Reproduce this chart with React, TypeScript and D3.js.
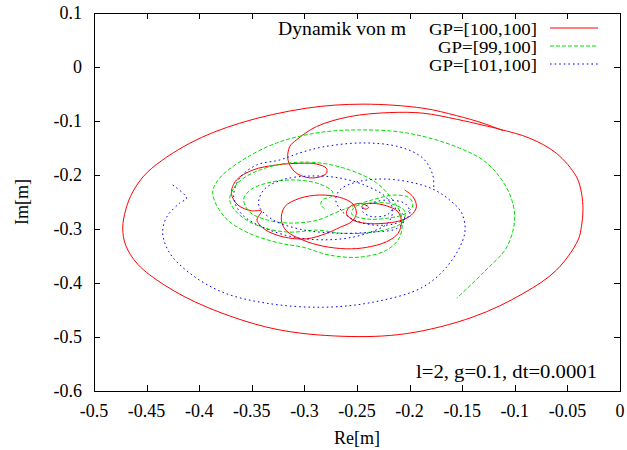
import React from "react";
import * as d3 from "d3";

const W = 627;
const H = 450;

const xTicks = [-0.5, -0.45, -0.4, -0.35, -0.3, -0.25, -0.2, -0.15, -0.1, -0.05, 0];
const xTickLabels = ["-0.5", "-0.45", "-0.4", "-0.35", "-0.3", "-0.25", "-0.2", "-0.15", "-0.1", "-0.05", "0"];
const yTicks = [0.1, 0, -0.1, -0.2, -0.3, -0.4, -0.5, -0.6];
const yTickLabels = ["0.1", "0", "-0.1", "-0.2", "-0.3", "-0.4", "-0.5", "-0.6"];

const seriesNames = ["GP=[100,100]", "GP=[99,100]", "GP=[101,100]"];

// GP=[100,100]
const redRe = [
  -0.2047, -0.1968, -0.1935, -0.1983, -0.2094, -0.2253, -0.2411, -0.2538, -0.2601, -0.2569, -0.2474,
  -0.2417, -0.2389, -0.2417, -0.2455, -0.2427,
  -0.2348, -0.2221, -0.211, -0.2078, -0.211, -0.2221, -0.2411, -0.2601, -0.2823, -0.3013, -0.3171,
  -0.3219, -0.3187, -0.3045, -0.2855, -0.2664, -0.2538, -0.2506, -0.2553, -0.2664, -0.2791, -0.2981,
  -0.3203, -0.3377, -0.3451, -0.3409, -0.3504, -0.3631, -0.3694, -0.3646, -0.3489, -0.3266, -0.3045,
  -0.2886, -0.2791, -0.2791, -0.2871, -0.2981, -0.3092, -0.3156, -0.314, -0.3076, -0.2886, -0.2569,
  -0.2189, -0.1873, -0.1555, -0.1302, -0.1144, -0.0858, -0.0605, -0.0414, -0.0366, -0.0352, -0.0366,
  -0.0399, -0.0605, -0.0922, -0.1397, -0.203, -0.2633, -0.3298, -0.3932, -0.4328, -0.4585, -0.4699,
  -0.4727, -0.4699, -0.4632, -0.449, -0.409, -0.3615, -0.2981, -0.2443, -0.1873, -0.1555, -0.1302,
  -0.1112,
];
const redIm = [
  -0.2278, -0.2403, -0.2588, -0.2742, -0.2848, -0.2896, -0.2896, -0.2835, -0.2711, -0.2588, -0.2525,
  -0.2557, -0.2603, -0.2631, -0.2594, -0.2538,
  -0.2525, -0.257, -0.2681, -0.2866, -0.3082, -0.3237, -0.3341, -0.3367, -0.3317, -0.3206, -0.3033,
  -0.2835, -0.2588, -0.2432, -0.2371, -0.2414, -0.2538, -0.2711, -0.2866, -0.297, -0.3082, -0.3182,
  -0.3145, -0.3007, -0.2835, -0.2668, -0.2662, -0.2557, -0.234, -0.2093, -0.1907, -0.1814, -0.1783,
  -0.1796, -0.1876, -0.1968, -0.2043, -0.2043, -0.1939, -0.1722, -0.1475, -0.1351, -0.1104, -0.0918,
  -0.0844, -0.0855, -0.0967, -0.1078, -0.1152, -0.1319, -0.1597, -0.2032, -0.2334, -0.2649, -0.2946,
  -0.3206, -0.3763, -0.4195, -0.4629, -0.4937, -0.4987, -0.4844, -0.4443, -0.4041, -0.3651, -0.3299,
  -0.2983, -0.2649, -0.2315, -0.1944, -0.1412, -0.1041, -0.0763, -0.0688, -0.0763, -0.09, -0.1041,
  -0.1178,
];

// GP=[99,100]
const greenRe = [
  -0.2807, -0.2845, -0.2817, -0.275, -0.2731, -0.2855, -0.3073, -0.3311, -0.3501, -0.3577, -0.352,
  -0.3349, -0.3121, -0.2874, -0.2712, -0.2569, -0.236, -0.2142, -0.1999, -0.1971, -0.2047, -0.2208,
  -0.2398, -0.255, -0.2522, -0.236, -0.217, -0.2047, -0.2066, -0.2208, -0.2427, -0.2664, -0.2874,
  -0.314, -0.3406, -0.3615, -0.371, -0.3634, -0.3425, -0.314, -0.2855, -0.2569, -0.2313, -0.2161,
  -0.2075, -0.2094, -0.2218, -0.2474, -0.276, -0.3016, -0.3235, -0.3549, -0.3758, -0.3872, -0.3805,
  -0.3587, -0.3263, -0.2883, -0.2503, -0.2028, -0.1552, -0.1267, -0.1067, -0.1001, -0.1077, -0.1305,
  -0.1552,
];
const greenIm = [
  -0.2631, -0.2538, -0.2445, -0.2408, -0.2315, -0.2167, -0.2093, -0.213, -0.226, -0.2445, -0.2686,
  -0.2835, -0.2891, -0.2835, -0.2705, -0.2594, -0.2464, -0.2371, -0.2427, -0.2575, -0.2724, -0.2798,
  -0.2816, -0.2724, -0.2594, -0.2519, -0.2538, -0.2668, -0.2872, -0.3002, -0.3076, -0.3076, -0.302,
  -0.3058, -0.2965, -0.2742, -0.2464, -0.2148, -0.1907, -0.1777, -0.1777, -0.1907, -0.2148, -0.2464,
  -0.2779, -0.315, -0.3391, -0.3521, -0.3484, -0.3336, -0.3262, -0.3058, -0.2779, -0.2334, -0.2056,
  -0.1722, -0.1406, -0.1221, -0.1165, -0.1221, -0.1481, -0.1777, -0.2278, -0.2779, -0.3336, -0.3818,
  -0.4282,
];

// GP=[101,100]
const blueRe = [
  -0.4252, -0.4119, -0.4185, -0.4309, -0.4347, -0.428, -0.409, -0.3777, -0.3358, -0.2826, -0.2351,
  -0.1876, -0.1619, -0.1476, -0.1505, -0.1619, -0.178, -0.1999, -0.2256, -0.2503, -0.2664, -0.2702,
  -0.2645, -0.2522, -0.2332, -0.2123, -0.1999, -0.2037, -0.2189, -0.236, -0.2455, -0.2379, -0.2218,
  -0.2142, -0.2047, -0.2113, -0.236, -0.2712, -0.3045, -0.3311, -0.3434, -0.3387, -0.3216, -0.295,
  -0.2664, -0.2408, -0.2227, -0.2161, -0.2208, -0.2398, -0.2664, -0.3045, -0.3377, -0.3596, -0.3672,
  -0.3615, -0.3453, -0.3235, -0.3045, -0.2826, -0.2446, -0.2094, -0.1876, -0.178, -0.1771,
];
const blueIm = [
  -0.2186, -0.2427, -0.2519, -0.2779, -0.3076, -0.3447, -0.3818, -0.4171, -0.4375, -0.4449, -0.4356,
  -0.4078, -0.3633, -0.3076, -0.2705, -0.2464, -0.226, -0.213, -0.2074, -0.213, -0.2278, -0.2464,
  -0.2668, -0.2835, -0.2928, -0.2891, -0.2724, -0.2538, -0.2464, -0.2519, -0.2649, -0.2761, -0.2742,
  -0.2612, -0.2798, -0.2983, -0.3058, -0.3076, -0.3002, -0.2816, -0.2557, -0.2278, -0.2093, -0.2019,
  -0.2056, -0.2204, -0.2408, -0.2649, -0.2891, -0.3076, -0.3187, -0.3169, -0.2983, -0.2724, -0.2408,
  -0.2056, -0.1814, -0.1722, -0.1592, -0.1481, -0.1406, -0.1481, -0.1685, -0.2, -0.2278,
];

const seriesColors = ["#ff0000", "#00dd00", "#0000ff"];
const seriesDash = ["none", "4,2", "1.6,3"];

const FONT = "'Liberation Serif', 'Times New Roman', serif";

export default function App() {
  const left = 94, right = 620, top = 13, bottom = 391;
  const x = d3.scaleLinear().domain([-0.5, 0]).range([left, right]);
  const y = d3.scaleLinear().domain([-0.6, 0.1]).range([bottom, top]);

  const line = d3
    .line<[number, number]>()
    .x((d) => x(d[0]))
    .y((d) => y(d[1]))
    .curve(d3.curveCatmullRom.alpha(0.5));

  const series = [
    { re: redRe, im: redIm },
    { re: greenRe, im: greenIm },
    { re: blueRe, im: blueIm },
  ].map((s, i) => ({
    path: line(s.re.map((v, k) => [v, s.im[k]] as [number, number])) || "",
    color: seriesColors[i],
    dash: seriesDash[i],
    name: seriesNames[i],
  }));

  const tl = 6;

  return (
    <svg
      width={W}
      height={H}
      viewBox={`0 0 ${W} ${H}`}
      style={{ position: "absolute", left: 0, top: 0, background: "#fff" }}
      fontFamily={FONT}
    >
      <rect x={0} y={0} width={W} height={H} fill="#fff" />
      <defs>
        <clipPath id="plotclip">
          <rect x={left} y={top} width={right - left} height={bottom - top} />
        </clipPath>
      </defs>

      {/* curves */}
      <g clipPath="url(#plotclip)">
        {series.map((s, i) => (
          <path
            key={i}
            d={s.path}
            fill="none"
            stroke={s.color}
            strokeWidth={1}
            strokeDasharray={s.dash === "none" ? undefined : s.dash}
          />
        ))}
      </g>

      {/* ticks */}
      <g stroke="#000" strokeWidth={1}>
        {xTicks.map((t, i) => {
          const px = Math.round(x(t)) + 0.5;
          return (
            <g key={"xt" + i}>
              <line x1={px} x2={px} y1={bottom} y2={bottom - tl} />
              <line x1={px} x2={px} y1={top} y2={top + tl} />
            </g>
          );
        })}
        {yTicks.map((t, i) => {
          const py = Math.round(y(t)) + 0.5;
          return (
            <g key={"yt" + i}>
              <line x1={left} x2={left + tl} y1={py} y2={py} />
              <line x1={right} x2={right - tl} y1={py} y2={py} />
            </g>
          );
        })}
      </g>

      {/* frame */}
      <rect
        x={left + 0.5}
        y={top + 0.5}
        width={right - left}
        height={bottom - top}
        fill="none"
        stroke="#000"
        strokeWidth={1}
      />

      {/* tick labels */}
      <g fontSize={18} fill="#000">
        {xTicks.map((t, i) => (
          <text key={"xl" + i} x={x(t)} y={417} textAnchor="middle">
            {xTickLabels[i]}
          </text>
        ))}
        {yTicks.map((t, i) => (
          <text key={"yl" + i} x={82} y={y(t)} dy="0.35em" textAnchor="end">
            {yTickLabels[i]}
          </text>
        ))}
      </g>

      {/* axis labels */}
      <text x={(left + right) / 2} y={444} fontSize={18} textAnchor="middle">
        Re[m]
      </text>
      <text
        transform={`translate(22,${(top + bottom) / 2}) rotate(-90)`}
        fontSize={18}
        textAnchor="middle"
        dy="0.35em"
      >
        Im[m]
      </text>

      {/* key */}
      <text x={278} y={34.5} fontSize={18.5} textLength={128} lengthAdjust="spacingAndGlyphs">
        Dynamik von m
      </text>
      {series.map((s, i) => (
        <g key={"k" + i}>
          <text x={537} y={34.5 + 18 * i} fontSize={16} textAnchor="end" textLength={s.name.length > 11 ? 108 : 99} lengthAdjust="spacingAndGlyphs">
            {s.name}
          </text>
          <line
            x1={550}
            x2={598}
            y1={28 + 18 * i}
            y2={28 + 18 * i}
            stroke={s.color}
            strokeWidth={1}
            strokeDasharray={s.dash === "none" ? undefined : s.dash}
          />
        </g>
      ))}

      <text x={597} y={378} fontSize={18} textAnchor="end" textLength={181} lengthAdjust="spacingAndGlyphs">
        l=2, g=0.1, dt=0.0001
      </text>
    </svg>
  );
}
